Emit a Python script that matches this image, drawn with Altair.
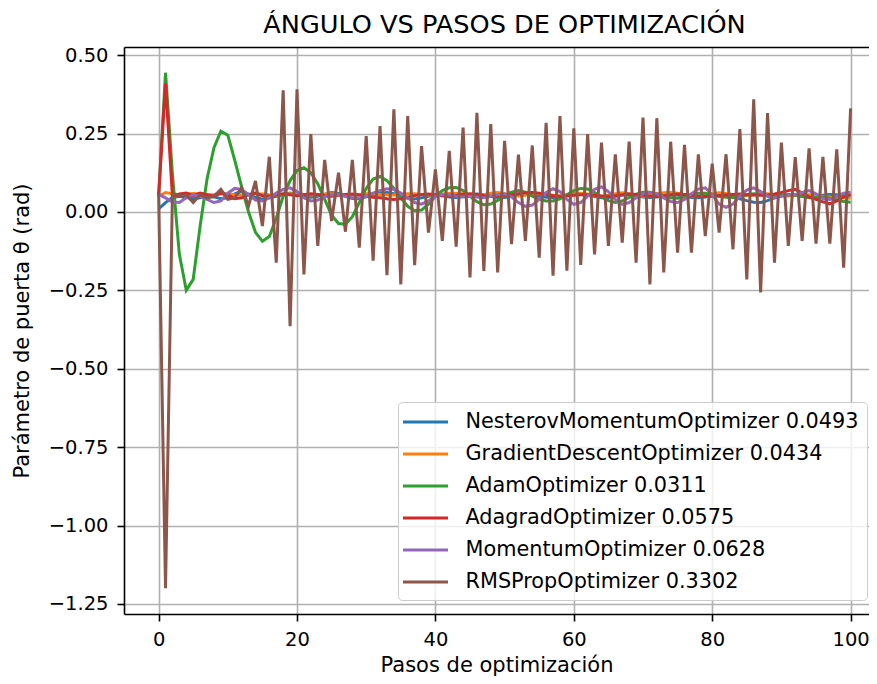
import altair as alt
import pandas as pd

steps = list(range(101))

names = ["NesterovMomentumOptimizer", "GradientDescentOptimizer", "AdamOptimizer",
         "AdagradOptimizer", "MomentumOptimizer", "RMSPropOptimizer"]
finals = ["0.0493", "0.0434", "0.0311", "0.0575", "0.0628", "0.3302"]
colors = ["#1f77b4", "#ff7f0e", "#2ca02c", "#d62728", "#9467bd", "#8c564b"]

nesterov = [0.010, 0.030, 0.046, 0.050, 0.046, 0.042, 0.045, 0.050, 0.048, 0.042,
            0.045, 0.058, 0.066, 0.057, 0.046, 0.041, 0.045, 0.050, 0.055, 0.060,
            0.056, 0.050, 0.047, 0.050, 0.056, 0.062, 0.059, 0.050, 0.043, 0.042,
            0.048, 0.055, 0.060, 0.062, 0.058, 0.050, 0.044, 0.041, 0.045, 0.050,
            0.053, 0.052, 0.048, 0.046, 0.049, 0.054, 0.057, 0.055, 0.050, 0.046,
            0.046, 0.050, 0.055, 0.058, 0.056, 0.051, 0.047, 0.046, 0.049, 0.054,
            0.058, 0.059, 0.055, 0.049, 0.045, 0.046, 0.050, 0.054, 0.055, 0.052,
            0.048, 0.046, 0.048, 0.052, 0.055, 0.054, 0.050, 0.046, 0.045, 0.048,
            0.053, 0.056, 0.054, 0.049, 0.042, 0.036, 0.031, 0.030, 0.036, 0.045,
            0.052, 0.055, 0.053, 0.049, 0.047, 0.049, 0.053, 0.056, 0.055, 0.052,
            0.0493]

gradient = [0.050, 0.062, 0.058, 0.055, 0.057, 0.059, 0.057, 0.055, 0.056, 0.058,
            0.057, 0.055, 0.054, 0.056, 0.058, 0.057, 0.055, 0.054, 0.056, 0.058,
            0.058, 0.056, 0.054, 0.055, 0.057, 0.058, 0.056, 0.054, 0.054, 0.056,
            0.058, 0.058, 0.056, 0.054, 0.054, 0.056, 0.058, 0.058, 0.056, 0.054,
            0.055, 0.057, 0.059, 0.060, 0.058, 0.055, 0.053, 0.055, 0.060, 0.062,
            0.058, 0.053, 0.051, 0.053, 0.057, 0.059, 0.057, 0.053, 0.051, 0.054,
            0.058, 0.060, 0.057, 0.052, 0.050, 0.053, 0.058, 0.061, 0.058, 0.053,
            0.050, 0.052, 0.057, 0.061, 0.062, 0.060, 0.056, 0.052, 0.050, 0.053,
            0.058, 0.061, 0.059, 0.055, 0.052, 0.052, 0.055, 0.058, 0.058, 0.055,
            0.052, 0.051, 0.053, 0.055, 0.055, 0.053, 0.050, 0.048, 0.046, 0.045,
            0.0434]

adam = [0.050, 0.444, 0.120, -0.135, -0.250, -0.215, -0.045, 0.105, 0.205, 0.258,
        0.245, 0.165, 0.080, 0.000, -0.065, -0.093, -0.078, -0.020, 0.050, 0.100,
        0.132, 0.141, 0.125, 0.090, 0.040, -0.010, -0.037, -0.039, -0.015, 0.030,
        0.075, 0.105, 0.113, 0.100, 0.075, 0.045, 0.018, 0.004, 0.006, 0.025,
        0.050, 0.068, 0.077, 0.078, 0.068, 0.050, 0.033, 0.023, 0.025, 0.037,
        0.052, 0.063, 0.068, 0.063, 0.050, 0.040, 0.035, 0.035, 0.042, 0.055,
        0.068, 0.075, 0.073, 0.062, 0.048, 0.036, 0.030, 0.035, 0.046, 0.057,
        0.063, 0.063, 0.057, 0.050, 0.045, 0.044, 0.048, 0.055, 0.060, 0.060,
        0.055, 0.050, 0.047, 0.046, 0.050, 0.055, 0.058, 0.056, 0.052, 0.050,
        0.053, 0.056, 0.055, 0.050, 0.045, 0.045, 0.048, 0.044, 0.038, 0.033,
        0.0311]

adagrad = [0.050, 0.410, 0.050, 0.057, 0.060, 0.052, 0.060, 0.055, 0.050, 0.060,
           0.055, 0.042, 0.045, 0.055, 0.060, 0.052, 0.050, 0.055, 0.058, 0.055,
           0.052, 0.055, 0.058, 0.056, 0.052, 0.050, 0.053, 0.056, 0.057, 0.054,
           0.050, 0.047, 0.045, 0.042, 0.040, 0.042, 0.047, 0.052, 0.056, 0.057,
           0.055, 0.052, 0.051, 0.053, 0.056, 0.058, 0.056, 0.052, 0.050, 0.051,
           0.053, 0.055, 0.058, 0.061, 0.062, 0.060, 0.056, 0.052, 0.050, 0.051,
           0.053, 0.055, 0.055, 0.053, 0.051, 0.050, 0.052, 0.055, 0.057, 0.056,
           0.053, 0.051, 0.050, 0.052, 0.055, 0.057, 0.056, 0.053, 0.050, 0.049,
           0.050, 0.052, 0.054, 0.056, 0.057, 0.056, 0.054, 0.053, 0.054, 0.057,
           0.062, 0.068, 0.072, 0.060, 0.048, 0.040, 0.032, 0.026, 0.035, 0.048,
           0.0575]

momentum = [0.056, 0.045, 0.032, 0.030, 0.045, 0.055, 0.050, 0.040, 0.030, 0.035,
            0.060, 0.075, 0.072, 0.055, 0.038, 0.035, 0.045, 0.060, 0.072, 0.077,
            0.065, 0.045, 0.035, 0.038, 0.048, 0.055, 0.055, 0.050, 0.045, 0.045,
            0.050, 0.060, 0.068, 0.074, 0.072, 0.060, 0.045, 0.030, 0.025, 0.035,
            0.050, 0.055, 0.055, 0.050, 0.048, 0.050, 0.048, 0.045, 0.050, 0.055,
            0.058, 0.048, 0.030, 0.018, 0.022, 0.040, 0.062, 0.074, 0.065, 0.040,
            0.024, 0.030, 0.050, 0.072, 0.080, 0.065, 0.040, 0.024, 0.030, 0.045,
            0.058, 0.062, 0.058, 0.045, 0.033, 0.030, 0.040, 0.058, 0.073, 0.077,
            0.055, 0.025, 0.015, 0.025, 0.050, 0.070, 0.077, 0.065, 0.050, 0.045,
            0.050, 0.055, 0.055, 0.062, 0.068, 0.058, 0.042, 0.040, 0.050, 0.060,
            0.0628]

rmsprop = [0.060, -1.200, 0.060, 0.050, 0.055, 0.030, 0.055, 0.045, 0.050, 0.072,
           0.040, 0.045, 0.077, 0.020, 0.099, -0.045, 0.176, -0.162, 0.388, -0.364,
           0.391, -0.199, 0.248, -0.108, 0.166, -0.029, 0.125, -0.063, 0.166, -0.114,
           0.242, -0.155, 0.274, -0.202, 0.327, -0.231, 0.306, -0.170, 0.210, -0.066,
           0.136, -0.092, 0.195, -0.111, 0.269, -0.209, 0.316, -0.188, 0.280, -0.193,
           0.227, -0.103, 0.183, -0.092, 0.212, -0.146, 0.284, -0.203, 0.306, -0.187,
           0.267, -0.169, 0.248, -0.135, 0.221, -0.108, 0.184, -0.098, 0.224, -0.162,
           0.301, -0.231, 0.299, -0.193, 0.224, -0.130, 0.214, -0.130, 0.184, -0.077,
           0.154, -0.066, 0.184, -0.119, 0.264, -0.215, 0.359, -0.257, 0.315, -0.162,
           0.221, -0.108, 0.175, -0.092, 0.203, -0.101, 0.176, -0.101, 0.200, -0.178,
           0.3302]

series = [nesterov, gradient, adam, adagrad, momentum, rmsprop]
labels = [f"{n} {v}" for n, v in zip(names, finals)]

x_ticks = [0, 20, 40, 60, 80, 100]
y_ticks = [-1.25, -1.0, -0.75, -0.5, -0.25, 0.0, 0.25, 0.5]

rows = []
for lab, ser in zip(labels, series):
    for s, v in zip(steps, ser):
        rows.append({"paso": s, "valor": v, "serie": lab})
df = pd.DataFrame(rows)

FONT = "DejaVu Sans"
W, H = 745, 567

xscale = alt.Scale(domain=[-5, 102.66], nice=False, zero=False)
yscale = alt.Scale(domain=[-1.282, 0.526], nice=False, zero=False)

legend = alt.Legend(
    title=None, orient="none", legendX=274, legendY=355,
    symbolType="M-2.143,0H2.143", symbolSize=441, symbolStrokeWidth=3,
    symbolOffset=7.5, labelOffset=28,
    labelFont=FONT, labelFontSize=20.8, labelColor="black", labelLimit=1000,
    rowPadding=10, padding=8, fillColor="rgba(255,255,255,0.8)",
    strokeColor="#cccccc", cornerRadius=4,
)
color = alt.Color("serie:N", scale=alt.Scale(domain=labels, range=colors),
                  legend=legend)

x_axis = alt.Axis(values=x_ticks, format="d", title="Pasos de optimización",
                  titleY=57, titleBaseline="alphabetic", labelPadding=9)
y_axis = alt.Axis(values=y_ticks, format=".2f", title="Parámetro de puerta θ (rad)",
                  titleX=-96, titleBaseline="alphabetic", labelPadding=9)

layers = []
for i, lab in enumerate(labels):
    layers.append(
        alt.Chart(df).transform_filter(alt.datum.serie == lab)
        .mark_line(strokeWidth=3, clip=True)
        .encode(
            x=alt.X("paso:Q", scale=xscale, axis=x_axis if i == 0 else None),
            y=alt.Y("valor:Q", scale=yscale, axis=y_axis if i == 0 else None),
            color=color,
        )
    )

frame = (
    alt.Chart(df).transform_filter(alt.datum.serie == labels[-1])
    .mark_line(opacity=0)
    .encode(
        x=alt.X("paso:Q", scale=xscale,
                axis=alt.Axis(orient="top", labels=False, ticks=False, grid=False,
                              domain=True, title=None)),
        y=alt.Y("valor:Q", scale=yscale, axis=None),
    )
)

chart = (
    alt.layer(*layers, frame)
    .resolve_axis(x="independent", y="independent")
    .properties(
        width=W, height=H,
        autosize=alt.AutoSizeParams(type="none"),
        padding={"left": 116, "top": 39, "right": 0, "bottom": 62},
        title=alt.Title("ÁNGULO VS PASOS DE OPTIMIZACIÓN", font=FONT, fontSize=25.6,
                        fontWeight="normal", color="black", anchor="middle",
                        offset=7, dx=8),
    )
    .configure_view(stroke="transparent")
    .configure_axis(
        labelFont=FONT, labelFontSize=19.5, labelColor="black",
        titleFont=FONT, titleFontSize=21, titleFontWeight="normal", titleColor="black",
        tickColor="black", tickSize=7, tickWidth=1.6,
        domainColor="black", domainWidth=1.6,
        gridColor="#b0b0b0", gridWidth=1.6, gridOpacity=1,
    )
)

chart.save("out.html", embed_options={"renderer": "svg", "actions": False})
